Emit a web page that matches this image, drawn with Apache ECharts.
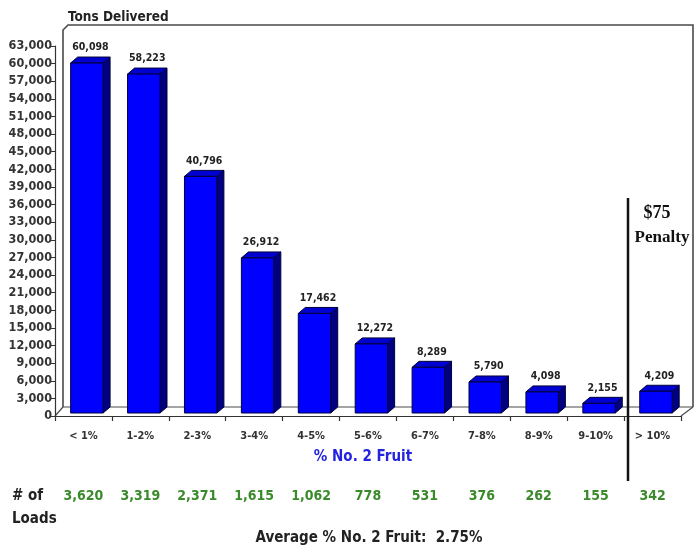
<!DOCTYPE html>
<html>
<head>
<meta charset="utf-8">
<script src="https://cdn.jsdelivr.net/npm/echarts@6/dist/echarts.min.js"></script>
<style>
html,body{margin:0;padding:0;background:#fff;}
#main{width:694px;height:545px;}
</style>
</head>
<body>
<div id="main"></div>
<script>
// ---- data ----
const categories = ['< 1%', '1-2%', '2-3%', '3-4%', '4-5%', '5-6%', '6-7%', '7-8%', '8-9%', '9-10%', '> 10%'];
const tons = [60098, 58223, 40796, 26912, 17462, 12272, 8289, 5790, 4098, 2155, 4209];
const loads = [3620, 3319, 2371, 1615, 1062, 778, 531, 376, 262, 155, 342];
const yMax = 63000;
const yInterval = 3000;
const averageText = 'Average % No. 2 Fruit:  2.75%';

const NARROW = '"Liberation Sans Narrow", "Arial Narrow", "DejaVu Sans Condensed", sans-serif';
const fmt = v => Number(v).toLocaleString('en-US');

// layout
const G = {left: 55, right: 13, top: 46, bottom: 129};
const W = 694, H = 545;
const DX = 7, DY = -6;

const chart = echarts.init(document.getElementById('main'), null, {renderer: 'canvas'});

function renderBar(params, api) {
  const idx = api.value(0);
  const v = api.value(1);
  const top = api.coord([idx, v]);
  const base = api.coord([idx, 0]);
  const band = api.size([1, 0])[0];
  const w = band * 0.57;
  const cx = top[0] + band * 0.06;
  const x0 = cx - w / 2, x1 = cx + w / 2;
  const yT = top[1], yB = base[1] - 3;
  const stroke = '#00003a';
  return {
    type: 'group',
    children: [
      {type: 'polygon', shape: {points: [[x1, yT], [x1 + DX, yT + DY], [x1 + DX, yB + DY], [x1, yB]]},
        style: {fill: '#000080', stroke: stroke, lineWidth: 1}},
      {type: 'polygon', shape: {points: [[x0, yT], [x0 + DX, yT + DY], [x1 + DX, yT + DY], [x1, yT]]},
        style: {fill: '#0000d0', stroke: stroke, lineWidth: 1}},
      {type: 'rect', shape: {x: x0, y: yT, width: w, height: yB - yT},
        style: {fill: '#0000ff', stroke: stroke, lineWidth: 1}},
      {type: 'text', style: {text: fmt(v), x: cx + DX / 2, y: yT + DY - 4, align: 'center', verticalAlign: 'bottom',
        fontFamily: NARROW, fontWeight: 'bold', fontSize: 10.5, fill: '#222'}}
    ]
  };
}

const frameColor = '#4a4a4a';
const backL = 65, backT = 25, backR = 693, backB = 407;
const frontB = H - G.bottom, frontL = G.left, frontR = W - G.right;

chart.setOption({
  animation: false,
  backgroundColor: '#fff',
  title: [
    {text: 'Tons Delivered', left: 63, top: 5,
      textStyle: {fontFamily: NARROW, fontWeight: 'bold', fontSize: 13.5, color: '#222'}},
    {text: averageText, left: 364, textAlign: 'center', top: 526,
      textStyle: {fontFamily: NARROW, fontWeight: 'bold', fontSize: 15, color: '#222'}}
  ],
  grid: {left: G.left, right: G.right, top: G.top, bottom: G.bottom, containLabel: false},
  xAxis: [
    {type: 'category', data: categories, boundaryGap: true,
      axisLine: {show: true, lineStyle: {color: '#333', width: 1.2}},
      axisTick: {show: true, length: 5, lineStyle: {color: '#333', width: 1.2}},
      axisLabel: {margin: 15, fontFamily: NARROW, fontWeight: 'bold', fontSize: 11, color: '#333'},
      name: '% No. 2 Fruit', nameLocation: 'middle', nameGap: 34,
      nameTextStyle: {fontFamily: NARROW, fontWeight: 'bold', fontSize: 15, color: '#2424e0', padding: [0, 10, 0, 0]}
    },
    {type: 'category', data: loads.map(fmt), position: 'bottom', offset: 73,
      axisLine: {show: false}, axisTick: {show: false},
      axisLabel: {margin: 0, fontFamily: NARROW, fontWeight: 'bold', fontSize: 14, color: '#3a8a2c'}
    }
  ],
  yAxis: {type: 'value', min: 0, max: yMax, interval: yInterval,
    axisLine: {show: true, lineStyle: {color: '#333', width: 1.2}},
    axisTick: {show: true, length: 4, lineStyle: {color: '#333'}},
    splitLine: {show: false},
    axisLabel: {margin: 3, formatter: v => fmt(v), fontFamily: NARROW, fontWeight: 'bold', fontSize: 12.5, color: '#333'}
  },
  graphic: [
    // back wall
    {type: 'polyline', z: 0, shape: {points: [[backL - 2, backB], [backL - 2, backT + 5], [backL + 3, backT], [backR, backT], [backR, backB]]},
      style: {stroke: frameColor, lineWidth: 1.6, fill: null}},
    {type: 'line', z: 0, shape: {x1: backL - 2, y1: backB, x2: backR, y2: backB}, style: {stroke: frameColor, lineWidth: 1.2}},
    {type: 'line', z: 0, shape: {x1: frontL, y1: frontB, x2: backL - 2, y2: backB}, style: {stroke: frameColor, lineWidth: 1.2}},
    {type: 'line', z: 0, shape: {x1: frontR, y1: frontB, x2: backR, y2: backB}, style: {stroke: frameColor, lineWidth: 1.2}},
    // penalty divider
    {type: 'line', z: 10, shape: {x1: 628, y1: 198, x2: 628, y2: 481}, style: {stroke: '#111', lineWidth: 2.5}},
    {type: 'text', z: 10, style: {text: '$75', x: 657, y: 213, align: 'center', verticalAlign: 'middle',
      font: 'bold 18px "Liberation Serif", "DejaVu Serif", serif', fill: '#111'}},
    {type: 'text', z: 10, style: {text: 'Penalty', x: 662, y: 238, align: 'center', verticalAlign: 'middle',
      font: 'bold 17px "Liberation Serif", "DejaVu Serif", serif', fill: '#111'}},
    // # of Loads label
    {type: 'text', z: 10, style: {text: '# of', x: 12, y: 496, verticalAlign: 'middle',
      fontFamily: NARROW, fontWeight: 'bold', fontSize: 15, fill: '#222'}},
    {type: 'text', z: 10, style: {text: 'Loads', x: 12, y: 519, verticalAlign: 'middle',
      fontFamily: NARROW, fontWeight: 'bold', fontSize: 15, fill: '#222'}}
  ],
  series: [{
    type: 'custom',
    renderItem: renderBar,
    clip: false,
    encode: {x: 0, y: 1},
    data: tons.map((v, i) => [i, v])
  }]
});
</script>
</body>
</html>
